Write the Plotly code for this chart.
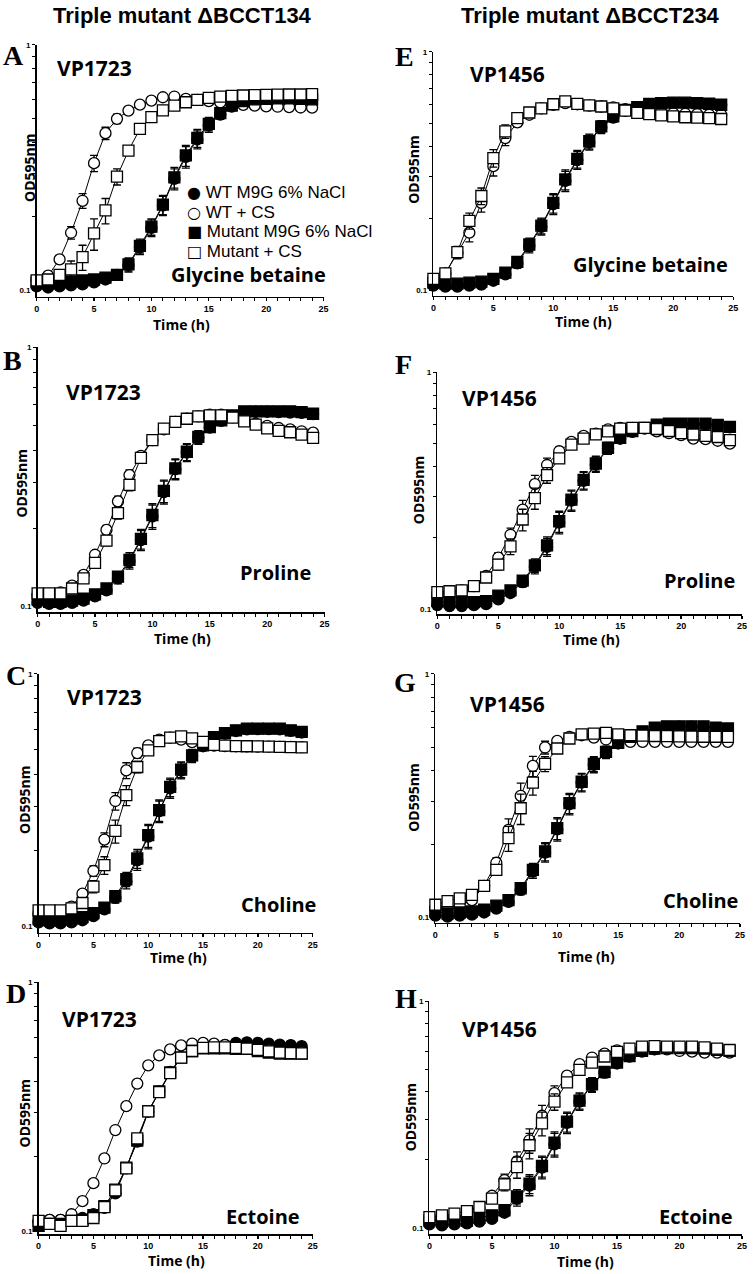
import plotly.graph_objects as go

W, H = 755, 1274
hours = list(range(25))

# ---------------- data (OD595nm) ----------------
# Panel A: VP1723, Glycine betaine
A_wt_m9g = [0.104,0.103,0.104,0.105,0.106,0.108,0.111,0.116,0.127,0.150,0.180,0.222,0.285,0.350,0.412,0.470,0.520,0.560,0.585,0.595,0.598,0.600,0.600,0.598,0.596]
A_wt_cs = [0.110,0.115,0.134,0.172,0.232,0.330,0.437,0.500,0.540,0.571,0.593,0.612,0.616,0.603,0.597,0.590,0.583,0.576,0.570,0.566,0.562,0.560,0.558,0.556,0.555]
A_mut_m9g = [0.108,0.107,0.108,0.109,0.110,0.111,0.113,0.116,0.128,0.152,0.182,0.224,0.289,0.355,0.418,0.477,0.527,0.566,0.590,0.600,0.603,0.605,0.605,0.603,0.600]
A_mut_cs = [0.110,0.111,0.116,0.122,0.137,0.171,0.212,0.291,0.371,0.455,0.508,0.541,0.566,0.584,0.597,0.608,0.616,0.620,0.622,0.624,0.626,0.627,0.628,0.628,0.630]
A_cs_err = [0.002,0.003,0.005,0.010,0.016,0.025,0.025,0.022,0.015,0.010,0.008,0.006,0.005,0.005,0.005,0.005,0.005,0.005,0.005,0.005,0.005,0.005,0.005,0.005,0.005]
A_m9g_err = [0.002,0.002,0.002,0.002,0.002,0.003,0.004,0.005,0.008,0.010,0.014,0.020,0.028,0.035,0.035,0.030,0.022,0.015,0.010,0.008,0.006,0.006,0.006,0.006,0.006]

# Panel B: VP1723, Proline
B_wt_m9g = [0.103,0.102,0.102,0.103,0.105,0.109,0.115,0.128,0.149,0.180,0.222,0.276,0.338,0.392,0.448,0.490,0.520,0.544,0.562,0.564,0.564,0.562,0.560,0.558,0.552]
B_wt_cs = [0.111,0.111,0.113,0.120,0.132,0.158,0.197,0.254,0.321,0.381,0.438,0.482,0.515,0.530,0.541,0.550,0.550,0.537,0.522,0.507,0.497,0.488,0.482,0.474,0.468]
B_mut_m9g = [0.106,0.104,0.104,0.105,0.107,0.111,0.117,0.130,0.151,0.182,0.225,0.279,0.341,0.395,0.451,0.492,0.522,0.546,0.566,0.566,0.566,0.566,0.566,0.562,0.554]
B_mut_cs = [0.112,0.112,0.112,0.117,0.128,0.147,0.179,0.229,0.294,0.374,0.438,0.485,0.515,0.530,0.541,0.546,0.546,0.535,0.518,0.503,0.486,0.476,0.470,0.460,0.447]
B_cs_err = [0.002,0.002,0.002,0.003,0.004,0.006,0.008,0.012,0.015,0.012,0.008,0.006,0.005,0.005,0.005,0.005,0.005,0.005,0.005,0.005,0.005,0.005,0.005,0.005,0.005]
B_m9g_err = [0.002,0.002,0.002,0.002,0.002,0.003,0.004,0.006,0.010,0.016,0.024,0.028,0.030,0.030,0.026,0.020,0.012,0.008,0.006,0.006,0.006,0.006,0.006,0.006,0.006]

# Panel C: VP1723, Choline
C_wt_m9g = [0.104,0.103,0.103,0.104,0.106,0.110,0.117,0.130,0.151,0.183,0.227,0.286,0.352,0.414,0.472,0.517,0.557,0.580,0.594,0.603,0.604,0.604,0.603,0.595,0.586]
C_wt_cs = [0.114,0.115,0.115,0.120,0.135,0.166,0.221,0.314,0.415,0.486,0.521,0.549,0.559,0.549,0.537,0.526,0.520,0.518,0.517,0.516,0.515,0.515,0.514,0.514,0.513]
C_mut_m9g = [0.107,0.106,0.107,0.107,0.109,0.113,0.119,0.132,0.154,0.186,0.230,0.289,0.357,0.418,0.476,0.521,0.562,0.583,0.598,0.607,0.607,0.607,0.607,0.598,0.589]
C_mut_cs = [0.116,0.116,0.116,0.118,0.124,0.144,0.175,0.239,0.331,0.428,0.498,0.542,0.559,0.566,0.555,0.538,0.524,0.520,0.518,0.517,0.516,0.515,0.514,0.513,0.512]
C_cs_err = [0.002,0.002,0.002,0.003,0.004,0.008,0.014,0.025,0.030,0.022,0.010,0.006,0.005,0.005,0.005,0.005,0.005,0.005,0.005,0.005,0.005,0.005,0.005,0.005,0.005]
C_m9g_err = [0.002,0.002,0.002,0.002,0.002,0.003,0.004,0.006,0.010,0.016,0.024,0.028,0.030,0.030,0.026,0.020,0.012,0.008,0.006,0.006,0.006,0.006,0.006,0.006,0.006]

# Panel D: VP1723, Ectoine
D_wt_m9g = [0.109,0.111,0.111,0.112,0.113,0.117,0.124,0.142,0.179,0.229,0.302,0.365,0.437,0.501,0.533,0.550,0.558,0.561,0.571,0.574,0.571,0.567,0.562,0.560,0.554]
D_wt_cs = [0.110,0.111,0.111,0.117,0.132,0.156,0.196,0.255,0.318,0.392,0.464,0.509,0.538,0.558,0.567,0.571,0.567,0.560,0.550,0.542,0.533,0.533,0.525,0.525,0.525]
D_mut_m9g = [0.105,0.107,0.107,0.110,0.111,0.116,0.126,0.147,0.180,0.231,0.304,0.365,0.435,0.498,0.530,0.543,0.543,0.543,0.540,0.540,0.530,0.522,0.517,0.517,0.517]
D_mut_cs = [0.110,0.107,0.105,0.110,0.110,0.113,0.125,0.146,0.179,0.236,0.303,0.362,0.432,0.498,0.530,0.545,0.548,0.548,0.545,0.542,0.535,0.528,0.522,0.520,0.518]
D_cs_err = [0.002,0.002,0.002,0.002,0.002,0.003,0.003,0.004,0.005,0.005,0.006,0.006,0.006,0.006,0.006,0.006,0.008,0.010,0.012,0.014,0.015,0.015,0.016,0.016,0.016]
D_m9g_err = [0.002,0.002,0.002,0.002,0.002,0.003,0.003,0.004,0.005,0.005,0.006,0.006,0.008,0.010,0.010,0.010,0.012,0.014,0.016,0.018,0.020,0.020,0.020,0.020,0.020]

# Panel E: VP1456, Glycine betaine
E_wt_m9g = [0.105,0.104,0.104,0.105,0.106,0.110,0.117,0.130,0.154,0.185,0.230,0.288,0.352,0.418,0.482,0.530,0.566,0.582,0.600,0.606,0.608,0.608,0.606,0.602,0.598]
E_wt_cs = [0.110,0.118,0.144,0.175,0.233,0.332,0.435,0.506,0.545,0.580,0.600,0.610,0.603,0.595,0.590,0.585,0.575,0.568,0.563,0.558,0.553,0.550,0.548,0.545,0.545]
E_mut_m9g = [0.108,0.107,0.107,0.108,0.109,0.112,0.119,0.132,0.156,0.187,0.233,0.292,0.356,0.422,0.487,0.536,0.571,0.586,0.605,0.610,0.612,0.612,0.610,0.606,0.600]
E_mut_cs = [0.112,0.118,0.145,0.196,0.249,0.359,0.464,0.527,0.557,0.580,0.603,0.620,0.605,0.597,0.590,0.580,0.567,0.555,0.548,0.542,0.536,0.532,0.530,0.527,0.523]
E_cs_err = [0.002,0.003,0.008,0.015,0.020,0.030,0.030,0.020,0.012,0.008,0.006,0.005,0.005,0.005,0.005,0.005,0.005,0.005,0.005,0.005,0.005,0.005,0.005,0.005,0.005]
E_m9g_err = [0.002,0.002,0.002,0.002,0.002,0.003,0.004,0.006,0.010,0.014,0.022,0.028,0.030,0.030,0.028,0.022,0.015,0.010,0.008,0.006,0.006,0.006,0.006,0.006,0.006]

# Panel F: VP1456, Proline
F_wt_m9g = [0.104,0.103,0.103,0.104,0.105,0.110,0.117,0.130,0.151,0.183,0.232,0.287,0.348,0.408,0.476,0.524,0.560,0.578,0.597,0.603,0.604,0.604,0.603,0.596,0.585]
F_wt_cs = [0.116,0.117,0.120,0.125,0.138,0.165,0.206,0.263,0.337,0.406,0.464,0.508,0.539,0.551,0.574,0.582,0.582,0.582,0.563,0.553,0.543,0.525,0.522,0.514,0.500]
F_mut_m9g = [0.108,0.107,0.107,0.107,0.108,0.114,0.120,0.132,0.153,0.186,0.235,0.290,0.351,0.412,0.480,0.528,0.564,0.582,0.601,0.607,0.607,0.607,0.607,0.600,0.588]
F_mut_cs = [0.118,0.119,0.120,0.125,0.136,0.154,0.184,0.239,0.294,0.368,0.433,0.495,0.525,0.547,0.563,0.578,0.582,0.582,0.576,0.565,0.553,0.546,0.539,0.533,0.517]
F_cs_err = [0.002,0.002,0.002,0.003,0.004,0.008,0.014,0.025,0.030,0.028,0.020,0.010,0.006,0.005,0.005,0.005,0.005,0.005,0.005,0.005,0.005,0.005,0.005,0.005,0.005]
F_m9g_err = [0.002,0.002,0.002,0.002,0.002,0.003,0.004,0.006,0.010,0.016,0.024,0.028,0.030,0.030,0.026,0.020,0.012,0.008,0.006,0.006,0.006,0.006,0.006,0.006,0.006]

# Panel G: VP1456, Choline
G_wt_m9g = [0.102,0.101,0.102,0.103,0.105,0.109,0.116,0.130,0.155,0.185,0.230,0.292,0.358,0.423,0.475,0.518,0.548,0.578,0.598,0.606,0.607,0.607,0.606,0.599,0.594]
G_wt_cs = [0.108,0.110,0.112,0.118,0.135,0.168,0.229,0.316,0.419,0.499,0.531,0.551,0.560,0.548,0.538,0.530,0.526,0.526,0.526,0.526,0.526,0.526,0.526,0.526,0.526]
G_mut_m9g = [0.106,0.104,0.105,0.106,0.108,0.112,0.118,0.132,0.157,0.187,0.233,0.295,0.361,0.427,0.479,0.521,0.551,0.581,0.601,0.609,0.609,0.609,0.609,0.601,0.597]
G_mut_cs = [0.113,0.117,0.120,0.124,0.135,0.157,0.212,0.281,0.358,0.427,0.494,0.543,0.565,0.569,0.573,0.565,0.560,0.558,0.556,0.555,0.554,0.553,0.552,0.552,0.551]
G_cs_err = [0.002,0.002,0.002,0.003,0.004,0.008,0.025,0.040,0.040,0.030,0.015,0.008,0.005,0.005,0.005,0.005,0.005,0.005,0.005,0.005,0.005,0.005,0.005,0.005,0.005]
G_m9g_err = [0.002,0.002,0.002,0.002,0.002,0.003,0.004,0.006,0.010,0.016,0.024,0.028,0.030,0.030,0.026,0.020,0.012,0.008,0.006,0.006,0.006,0.006,0.006,0.006,0.006]

# Panel H: VP1456, Ectoine
H_wt_m9g = [0.104,0.103,0.104,0.105,0.107,0.110,0.117,0.135,0.154,0.185,0.234,0.291,0.361,0.427,0.485,0.532,0.570,0.600,0.614,0.618,0.618,0.618,0.614,0.607,0.600]
H_wt_cs = [0.109,0.110,0.111,0.115,0.122,0.139,0.163,0.197,0.244,0.313,0.394,0.470,0.528,0.565,0.588,0.608,0.614,0.616,0.616,0.614,0.604,0.600,0.594,0.594,0.594]
H_mut_m9g = [0.108,0.107,0.108,0.108,0.111,0.114,0.120,0.138,0.157,0.188,0.238,0.295,0.365,0.431,0.489,0.537,0.574,0.604,0.618,0.622,0.622,0.622,0.618,0.611,0.604]
H_mut_cs = [0.112,0.114,0.116,0.119,0.124,0.135,0.156,0.186,0.232,0.290,0.361,0.439,0.499,0.537,0.571,0.598,0.618,0.631,0.635,0.631,0.631,0.631,0.626,0.618,0.610]
H_cs_err = [0.002,0.002,0.002,0.003,0.004,0.006,0.010,0.020,0.030,0.035,0.030,0.020,0.012,0.008,0.006,0.005,0.005,0.005,0.005,0.005,0.005,0.005,0.005,0.005,0.005]
H_m9g_err = [0.002,0.002,0.002,0.002,0.002,0.003,0.004,0.010,0.015,0.020,0.028,0.030,0.030,0.030,0.025,0.020,0.010,0.008,0.006,0.006,0.006,0.006,0.006,0.006,0.006]

series_names = ["WT M9G 6% NaCl", "WT + CS", "Mutant M9G 6% NaCl", "Mutant + CS"]
legend_glyphs = ["\u25CF", "\u25CB", "\u25A0", "\u25A1"]
x_tick_vals = [0, 5, 10, 15, 20, 25]
y_tick_vals = [0.1, 1]
y_tick_text = ["0.1", "1"]
y_minor_vals = [0.2, 0.3, 0.4, 0.5, 0.6, 0.7, 0.8, 0.9]
column_titles = ["Triple mutant \u0394BCCT134", "Triple mutant \u0394BCCT234"]

# ---------------- styles / geometry ----------------
styles = [
    dict(symbol="circle", color="black"),
    dict(symbol="circle", color="white"),
    dict(symbol="square", color="black"),
    dict(symbol="square", color="white"),
]

# box: x0, x1, y(1.0), y(0.1), y(x-axis line)
panels = [
    dict(letter="A", strain="VP1723", solute="Glycine betaine",
         series=[A_wt_m9g, A_wt_cs, A_mut_m9g, A_mut_cs], errs=[A_m9g_err, A_cs_err, A_m9g_err, A_cs_err],
         box=(34, 324, 41, 288, 294), letter_xy=(11, 52), vp_xy=(53, 64), sol_xy=(328, 272),
         od_xy=(27, 165), time_xy=(180, 322)),
    dict(letter="B", strain="VP1723", solute="Proline",
         series=[B_wt_m9g, B_wt_cs, B_mut_m9g, B_mut_cs], errs=[B_m9g_err, B_cs_err, B_m9g_err, B_cs_err],
         box=(35, 325, 345, 605, 611), letter_xy=(10, 358), vp_xy=(62, 390), sol_xy=(313, 571),
         od_xy=(19, 482), time_xy=(181, 638)),
    dict(letter="C", strain="VP1723", solute="Choline",
         series=[C_wt_m9g, C_wt_cs, C_mut_m9g, C_mut_cs], errs=[C_m9g_err, C_cs_err, C_m9g_err, C_cs_err],
         box=(36, 313, 673, 927, 933), letter_xy=(13, 675), vp_xy=(63, 696), sol_xy=(318, 905),
         od_xy=(21, 800), time_xy=(177, 958)),
    dict(letter="D", strain="VP1723", solute="Ectoine",
         series=[D_wt_m9g, D_wt_cs, D_mut_m9g, D_mut_cs], errs=[D_m9g_err, D_cs_err, D_m9g_err, D_cs_err],
         box=(36, 313, 983, 1233, 1236), letter_xy=(13, 994), vp_xy=(58, 1020), sol_xy=(302, 1218),
         od_xy=(22, 1115), time_xy=(175, 1262)),
    dict(letter="E", strain="VP1456", solute="Glycine betaine",
         series=[E_wt_m9g, E_wt_cs, E_mut_m9g, E_mut_cs], errs=[E_m9g_err, E_cs_err, E_m9g_err, E_cs_err],
         box=(435, 738, 48, 288, 293), letter_xy=(406, 53), vp_xy=(470, 70), sol_xy=(735, 262),
         od_xy=(415, 167), time_xy=(587, 319)),
    dict(letter="F", strain="VP1456", solute="Proline",
         series=[F_wt_m9g, F_wt_cs, F_mut_m9g, F_mut_cs], errs=[F_m9g_err, F_cs_err, F_m9g_err, F_cs_err],
         box=(439, 747, 370, 608, 613), letter_xy=(405, 362), vp_xy=(462, 396), sol_xy=(742, 579),
         od_xy=(420, 489), time_xy=(595, 639)),
    dict(letter="G", strain="VP1456", solute="Choline",
         series=[G_wt_m9g, G_wt_cs, G_mut_m9g, G_mut_cs], errs=[G_m9g_err, G_cs_err, G_m9g_err, G_cs_err],
         box=(437, 745, 673, 918, 923), letter_xy=(406, 682), vp_xy=(470, 703), sol_xy=(745, 901),
         od_xy=(415, 798), time_xy=(590, 957)),
    dict(letter="H", strain="VP1456", solute="Ectoine",
         series=[H_wt_m9g, H_wt_cs, H_mut_m9g, H_mut_cs], errs=[H_m9g_err, H_cs_err, H_m9g_err, H_cs_err],
         box=(431, 747, 1002, 1230, 1236), letter_xy=(407, 999), vp_xy=(462, 1030), sol_xy=(740, 1218),
         od_xy=(412, 1119), time_xy=(589, 1263)),
]

SANS = "Open Sans, Noto Sans, DejaVu Sans, sans-serif"
ARIAL = "Liberation Sans, Arial, sans-serif"
SERIF = "Liberation Serif, Times New Roman, serif"

def px(x):
    return x / W

def py(y):
    return 1 - y / H

fig = go.Figure()
layout = dict(width=W, height=H, margin=dict(l=0, r=0, t=0, b=0),
              paper_bgcolor="white", plot_bgcolor="white", showlegend=False)
annotations = []

for i, p in enumerate(panels):
    n = i + 1
    xa = "x" if n == 1 else f"x{n}"
    ya = "y" if n == 1 else f"y{n}"
    x0, x1, y1, y01, ybot = p["box"]
    low = -1 - (ybot - y01) / (y01 - y1)
    for s, (vals, err) in enumerate(zip(p["series"], p["errs"])):
        st = styles[s]
        fig.add_trace(go.Scatter(
            x=hours, y=vals, xaxis=xa, yaxis=ya, mode="lines+markers",
            name=series_names[s], cliponaxis=False,
            line=dict(color="black", width=1),
            marker=dict(symbol=st["symbol"], size=11, color=st["color"],
                        line=dict(color="black", width=1.3)),
            error_y=dict(type="data", array=err, visible=True, color="black",
                         thickness=1.3, width=4),
        ))
    layout[f"xaxis{n}"] = dict(
        domain=[px(x0), px(x1)], anchor=ya, range=[0, 25],
        showline=True, linecolor="black", linewidth=1.5, showgrid=False, zeroline=False,
        tickmode="array", tickvals=x_tick_vals, ticks="outside", ticklen=3, tickwidth=1.3,
        tickcolor="black",
        tickfont=dict(family=ARIAL, size=9, color="black", weight="bold"),
        minor=dict(dtick=1, tick0=0, ticks="outside", ticklen=3, tickwidth=1, tickcolor="black"),
    )
    layout[f"yaxis{n}"] = dict(
        domain=[py(ybot), py(y1)], anchor=xa, type="log", range=[low, 0],
        showline=True, linecolor="black", linewidth=1.5, showgrid=False, zeroline=False,
        tickmode="array", tickvals=y_tick_vals, ticktext=y_tick_text, ticks="outside",
        ticklen=3, tickwidth=1.2, tickcolor="black",
        tickfont=dict(family=ARIAL, size=8, color="black", weight="bold"),
        minor=dict(tickmode="array", tickvals=y_minor_vals, ticks="outside", ticklen=3,
                   tickwidth=1, tickcolor="black"),
    )
    lx, lyy = p["letter_xy"]
    annotations.append(dict(text=p["letter"], x=px(lx), y=py(lyy), xref="paper", yref="paper",
                            xanchor="center", yanchor="middle", showarrow=False,
                            font=dict(family=SERIF, size=28, color="black", weight="bold")))
    vx, vy = p["vp_xy"]
    annotations.append(dict(text=p["strain"], x=px(vx), y=py(vy), xref="paper", yref="paper",
                            xanchor="left", yanchor="middle", showarrow=False,
                            font=dict(family=SANS, size=21, color="black", weight="bold")))
    sx, sy = p["sol_xy"]
    annotations.append(dict(text=p["solute"], x=px(sx), y=py(sy), xref="paper", yref="paper",
                            xanchor="right", yanchor="middle", showarrow=False,
                            font=dict(family=SANS, size=20, color="black", weight="bold")))
    ox, oy = p["od_xy"]
    annotations.append(dict(text="OD595nm", x=px(ox), y=py(oy), xref="paper", yref="paper",
                            xanchor="center", yanchor="middle", showarrow=False, textangle=-90,
                            font=dict(family=SANS, size=14, color="black", weight="bold")))
    tx, ty = p["time_xy"]
    annotations.append(dict(text="Time (h)", x=px(tx), y=py(ty), xref="paper", yref="paper",
                            xanchor="center", yanchor="middle", showarrow=False,
                            font=dict(family=SANS, size=14, color="black", weight="bold")))

# column titles
for cx, title in zip([181, 594], column_titles):
    annotations.append(dict(text=title, x=px(cx), y=py(12), xref="paper", yref="paper",
                            xanchor="center", yanchor="middle", showarrow=False,
                            font=dict(family=ARIAL, size=22, color="black", weight="bold")))

# legend (panel A): one text block, 19.5px line pitch, compact-metric font
legend_lines = [
    f"<span style='font-family:DejaVu Sans;font-size:16px'>{g}</span>"
    f"<span style='font-size:17px'> {name}</span>"
    for g, name in zip(legend_glyphs, series_names)
]
annotations.append(dict(text="<br>".join(legend_lines),
                        x=px(184), y=py(219), xref="paper", yref="paper",
                        xanchor="left", yanchor="middle", align="left", showarrow=False,
                        font=dict(family="Liberation Sans, Arial, sans-serif", size=15, color="black")))

layout["annotations"] = annotations
fig.update_layout(**layout)
fig.write_html(
    "out.html",
    config={"displayModeBar": False, "staticPlot": True},
    post_script="document.body.style.margin='0px';document.body.style.padding='0px';"
                "document.documentElement.style.overflow='hidden';",
)
